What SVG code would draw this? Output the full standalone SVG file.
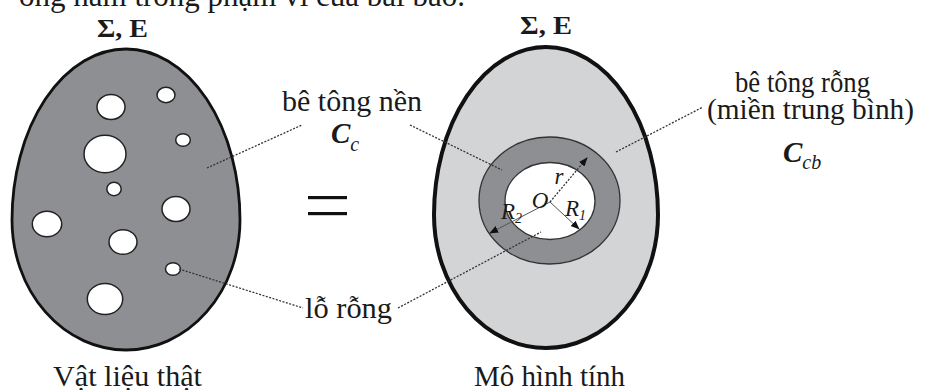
<svg xmlns="http://www.w3.org/2000/svg" width="938" height="390" viewBox="0 0 938 390">
<style>
.t{font-family:"Liberation Serif","Times New Roman",serif;fill:#1a1a1a}
.lbl{font-size:29px}
.sig{font-size:25px;font-weight:bold}
.hole{fill:#fff;stroke:#222;stroke-width:1.5}
.lead{fill:none;stroke:#333;stroke-width:1.3;stroke-dasharray:2 1.5}
.dim{fill:none;stroke:#555;stroke-width:1}
</style>
<defs>
<marker id="ah" viewBox="0 0 10 10" refX="9" refY="5" markerWidth="9" markerHeight="9" markerUnits="userSpaceOnUse" orient="auto">
<path d="M0,1 L10,5 L0,9 Z" fill="#111"/>
</marker>
</defs>
<rect width="938" height="390" fill="#fff"/>
<text class="t" x="465" y="6" font-size="31" text-anchor="end">ông nằm trong phạm vi của bài báo.</text>

<g id="real-material">
<path d="M12,220 A114,171 0 0 1 240,220 A114,130 0 0 1 12,220 Z" fill="#8e8f93" stroke="#111" stroke-width="2.8"/>
<ellipse class="hole" cx="111" cy="107" rx="14" ry="12.5"/>
<ellipse class="hole" cx="166" cy="95" rx="9" ry="7.7"/>
<ellipse class="hole" cx="105" cy="154" rx="21" ry="18.7"/>
<ellipse class="hole" cx="183" cy="140" rx="7.3" ry="6.3"/>
<ellipse class="hole" cx="114" cy="189" rx="7.2" ry="6.7"/>
<ellipse class="hole" cx="176" cy="209" rx="14" ry="12.5"/>
<ellipse class="hole" cx="47" cy="224" rx="14.7" ry="12.7"/>
<ellipse class="hole" cx="123" cy="242" rx="14" ry="12.3"/>
<ellipse class="hole" cx="173" cy="269" rx="7.5" ry="6.3"/>
<ellipse class="hole" cx="105" cy="299" rx="17.7" ry="15.5"/>
<text class="t sig" x="97" y="37" textLength="51" lengthAdjust="spacingAndGlyphs">Σ, E</text>
<text class="t lbl" x="53" y="386" textLength="149" lengthAdjust="spacingAndGlyphs">Vật liệu thật</text>
</g>

<g id="equals">
<rect x="308" y="196" width="39" height="3.2" fill="#111"/>
<rect x="308" y="212" width="39" height="3.2" fill="#111"/>
</g>

<g id="model">
<path d="M434,215 A112,168 0 0 1 658,215 A112,133 0 0 1 434,215 Z" fill="#d3d4d6" stroke="#111" stroke-width="4"/>
<ellipse cx="549.5" cy="200.5" rx="70.5" ry="63.5" fill="#8e8f93" stroke="#333" stroke-width="1.3"/>
<ellipse cx="550" cy="201" rx="45" ry="38.5" fill="#fff" stroke="#333" stroke-width="1.3"/>
<text class="t sig" x="520" y="34" textLength="52" lengthAdjust="spacingAndGlyphs">Σ, E</text>
<text class="t lbl" x="474" y="386" textLength="151" lengthAdjust="spacingAndGlyphs">Mô hình tính</text>
</g>

<g id="dimensions">
<line class="lead" x1="550" y1="202" x2="587" y2="158" marker-end="url(#ah)"/>
<line class="dim" x1="550" y1="202" x2="579" y2="229" marker-end="url(#ah)"/>
<line class="dim" x1="550" y1="202" x2="490" y2="233" marker-end="url(#ah)"/>
<text class="t" x="559" y="184" font-size="23" font-style="italic" text-anchor="middle">r</text>
<text class="t" x="540" y="208" font-size="23" font-style="italic" text-anchor="middle">O</text>
<text class="t" x="565" y="216" font-size="23" font-style="italic">R<tspan font-size="14" dy="4">1</tspan></text>
<text class="t" x="501" y="219" font-size="23" font-style="italic">R<tspan font-size="14" dy="4">2</tspan></text>
</g>

<g id="label-matrix">
<text class="t lbl" x="282" y="111" textLength="140" lengthAdjust="spacingAndGlyphs">bê tông nền</text>
<text class="t" x="331" y="143" font-size="29" font-weight="bold" font-style="italic">C<tspan font-size="20" font-weight="normal" dy="8">c</tspan></text>
</g>

<g id="label-porous">
<text class="t lbl" x="735" y="92" textLength="135" lengthAdjust="spacingAndGlyphs">bê tông rỗng</text>
<text class="t lbl" x="707" y="119" textLength="207" lengthAdjust="spacingAndGlyphs">(miền trung bình)</text>
<text class="t" x="783" y="162" font-size="29" font-weight="bold" font-style="italic">C<tspan font-size="20" font-weight="normal" dy="7">cb</tspan></text>
</g>

<g id="label-pore">
<text class="t lbl" x="305" y="318" textLength="87" lengthAdjust="spacingAndGlyphs">lỗ rỗng</text>
</g>

<g id="connectors">
<line class="lead" x1="207" y1="168" x2="302" y2="125"/>
<line class="lead" x1="410" y1="125" x2="502" y2="170"/>
<line class="lead" x1="616" y1="152" x2="703" y2="107"/>
<line class="lead" x1="179" y1="269" x2="303" y2="308"/>
<line class="lead" x1="398" y1="308" x2="541" y2="232"/>
</g>
</svg>
